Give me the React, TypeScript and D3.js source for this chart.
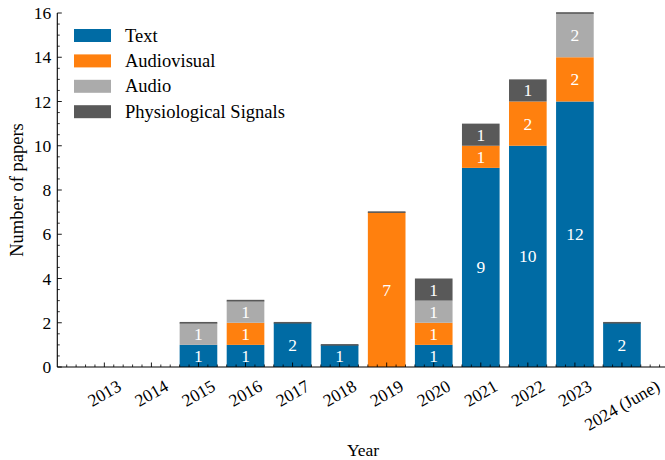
import React from "react";
import * as d3 from "d3";

const years = ["2013", "2014", "2015", "2016", "2017", "2018", "2019", "2020", "2021", "2022", "2023", "2024 (June)"];
const seriesNames = ["Text", "Audiovisual", "Audio", "Physiological Signals"];
const seriesColors = ["#006BA4", "#FF800E", "#ABABAB", "#595959"];
const textVals = [0, 0, 1, 1, 2, 1, 0, 1, 9, 10, 12, 2];
const audiovisualVals = [0, 0, 0, 1, 0, 0, 7, 1, 1, 2, 2, 0];
const audioVals = [0, 0, 1, 1, 0, 0, 0, 1, 0, 0, 2, 0];
const physioVals = [0, 0, 0, 0, 0, 0, 0, 1, 1, 1, 0, 0];
const yTicks = [0, 2, 4, 6, 8, 10, 12, 14, 16];

const W = 665;
const H = 460;
const FONT = "'Liberation Serif', 'Times New Roman', serif";
const FS = 17.5;

export default function App() {
  const x = d3.scaleLinear().domain([-1, 12]).range([57.3, 669]);
  const y = d3.scaleLinear().domain([0, 16]).range([367, 13]);
  const step = x(1) - x(0);
  const bw = step * 0.8;

  const data = years.map((yr, i) => ({
    year: yr,
    Text: textVals[i],
    Audiovisual: audiovisualVals[i],
    Audio: audioVals[i],
    "Physiological Signals": physioVals[i],
  }));
  const stack = d3.stack<any>().keys(seriesNames)(data);

  const minorX = d3.range(-1, 12.0001, 0.2).filter((v) => Math.abs(v - Math.round(v)) > 1e-6);
  const minorY = d3.range(0, 16.0001, 0.5).filter((v) => Math.abs(v / 2 - Math.round(v / 2)) > 1e-6);

  const estWidth = (s: string) => {
    let w = 0;
    for (const c of s) {
      if (/[0-9]/.test(c)) w += 0.5;
      else if (c === " ") w += 0.25;
      else if (c === "(" || c === ")") w += 0.333;
      else if (c === "J") w += 0.389;
      else if (c === "e") w += 0.444;
      else w += 0.5;
    }
    return w * FS;
  };

  const axisY = 367;
  const axisX = 57.3;

  return (
    <svg width={W} height={H} style={{ position: "absolute", left: 0, top: 0 }} fontFamily={FONT}>
      <rect x={0} y={0} width={W} height={H} fill="#fff" />
      {/* bars */}
      {stack.map((layer, si) => (
        <g key={seriesNames[si]}>
          {layer.map((d, i) => {
            const v = d[1] - d[0];
            if (v <= 0) return null;
            return (
              <rect
                key={i}
                x={x(i) - bw / 2}
                y={y(d[1])}
                width={bw}
                height={y(d[0]) - y(d[1])}
                fill={seriesColors[si]}
              />
            );
          })}
        </g>
      ))}
      {/* thin dark top line for zero-height physiological segments */}
      {data.map((d, i) => {
        const total = textVals[i] + audiovisualVals[i] + audioVals[i] + physioVals[i];
        if (physioVals[i] > 0 || total === 0) return null;
        return <rect key={"top" + i} x={x(i) - bw / 2} y={y(total) - 0.8} width={bw} height={1.6} fill={seriesColors[3]} />;
      })}
      {/* segment labels */}
      {stack.map((layer, si) => (
        <g key={"lbl" + si}>
          {layer.map((d, i) => {
            const v = d[1] - d[0];
            if (v <= 0) return null;
            return (
              <text
                key={i}
                x={x(i)}
                y={y((d[0] + d[1]) / 2)}
                textAnchor="middle"
                dominantBaseline="central"
                fill="#fff"
                fontSize={FS}
                fontFamily={FONT}
              >
                {v}
              </text>
            );
          })}
        </g>
      ))}
      {/* axes spines */}
      <line x1={axisX} x2={axisX} y1={y(16)} y2={axisY} stroke="#000" strokeWidth={1.1} />
      <line x1={axisX} x2={W} y1={axisY} y2={axisY} stroke="#000" strokeWidth={1.1} />
      {/* y ticks */}
      {yTicks.map((t) => (
        <g key={"yt" + t}>
          <line x1={axisX} x2={axisX + 4.5} y1={y(t)} y2={y(t)} stroke="#000" strokeWidth={0.9} />
          <text x={axisX - 6} y={y(t)} textAnchor="end" dominantBaseline="central" fontSize={FS} fontFamily={FONT}>
            {t}
          </text>
        </g>
      ))}
      {minorY.map((t) => (
        <line key={"ym" + t} x1={axisX} x2={axisX + 2.5} y1={y(t)} y2={y(t)} stroke="#000" strokeWidth={0.8} />
      ))}
      {/* x ticks */}
      {years.map((yr, i) => {
        const w = estWidth(yr);
        const bboxH = 0.5 * w + 0.866 * FS * 0.85;
        const cy = 378 + bboxH / 2;
        return (
          <g key={"xt" + yr}>
            <line x1={x(i)} x2={x(i)} y1={axisY} y2={axisY - 4.5} stroke="#000" strokeWidth={0.9} />
            <text
              transform={`translate(${x(i)},${cy}) rotate(-30)`}
              textAnchor="middle"
              dominantBaseline="central"
              fontSize={FS}
              fontFamily={FONT}
            >
              {yr}
            </text>
          </g>
        );
      })}
      {minorX.map((t) => (
        <line key={"xm" + t} x1={x(t)} x2={x(t)} y1={axisY} y2={axisY - 2.5} stroke="#000" strokeWidth={0.8} />
      ))}
      {/* axis labels */}
      <text x={363} y={450} textAnchor="middle" dominantBaseline="central" fontSize={FS} fontFamily={FONT}>
        Year
      </text>
      <text
        transform={`translate(17,${y(8)}) rotate(-90)`}
        textAnchor="middle"
        dominantBaseline="central"
        fontSize={FS + 1}
        fontFamily={FONT}
      >
        Number of papers
      </text>
      {/* legend */}
      {seriesNames.map((n, i) => {
        const cy = 35.5 + i * 25.4;
        return (
          <g key={"lg" + n}>
            <rect x={74} y={cy - 6.5} width={37} height={13} fill={seriesColors[i]} />
            <text x={125} y={cy} dominantBaseline="central" fontSize={FS + 1} fontFamily={FONT}>
              {n}
            </text>
          </g>
        );
      })}
    </svg>
  );
}
